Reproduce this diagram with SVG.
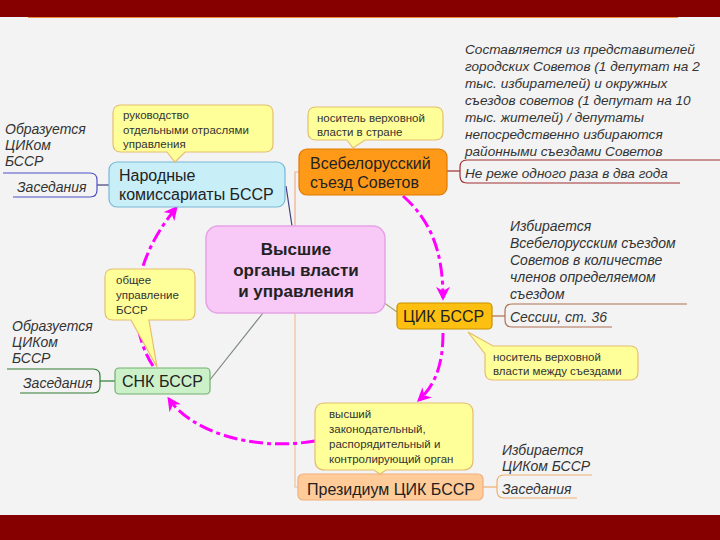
<svg xmlns="http://www.w3.org/2000/svg" width="720" height="540" viewBox="0 0 720 540">
<style>
text{font-family:"Liberation Sans",Arial,sans-serif;fill:#222}
.n{font-size:16px}
.c{font-size:11.5px;fill:#333}
.a{font-size:14px;font-style:italic;fill:#333}
.a2{font-size:13.6px}
.call{fill:#ffff99;stroke:#e6be6e;stroke-width:1.2}
.dash{fill:none;stroke:#ff00ff;stroke-width:3;stroke-dasharray:14 4 4 4;marker-end:url(#ah)}
.ln{fill:none;stroke-width:1.2}
</style>
<defs>
<marker id="ah" viewBox="0 0 10 10" refX="8" refY="5" markerWidth="14" markerHeight="14" markerUnits="userSpaceOnUse" orient="auto">
<path d="M0,0 L10,5 L0,10 L3,5 z" fill="#ff00ff"/>
</marker>
</defs>
<rect x="0" y="0" width="720" height="540" fill="#f3f3f3"/>
<rect x="0" y="0" width="720" height="17" fill="#860000"/>
<line x1="28" y1="17.5" x2="678" y2="17.5" stroke="#e89040" stroke-width="1"/>
<rect x="0" y="515" width="720" height="25" fill="#860000"/>

<g id="connectors">
<path class="ln" d="M286 186 L292 226" stroke="#404080"/>
<path class="ln" d="M295 226 V172 H299" stroke="#f0b090"/>
<path class="ln" d="M295 313 V487 H298" stroke="#f0c0a0" stroke-width="1.5"/>
<path class="ln" d="M383 302 L397 312" stroke="#a8a870"/>
<path class="ln" d="M263 313 L209 381" stroke="#808a80"/>
<path class="ln" d="M97 185 H109" stroke="#404080"/>
<path class="ln" d="M447 171 H460" stroke="#a03030"/>
<path class="ln" d="M492 316 H505" stroke="#b07050"/>
<path class="ln" d="M100 381 H115" stroke="#2e7d32"/>
<path class="ln" d="M483 487 H497" stroke="#f0b070"/>
<path class="dash" d="M403 196 C430 220 443 250 443 298"/>
<path class="dash" d="M443 333 C443 365 435 385 419 400"/>
<path class="dash" d="M315 441 C250 452 190 430 169 399"/>
<path class="dash" d="M153 366 C130 330 125 270 176 208"/>
</g>

<g id="center">
<rect x="206" y="226" width="179" height="87" rx="12" fill="#f8c8f6" stroke="#e6a2e6" stroke-width="1.5"/>
<text x="296" y="255" text-anchor="middle" font-size="17" font-weight="bold">Высшие</text>
<text x="296" y="276" text-anchor="middle" font-size="17" font-weight="bold">органы власти</text>
<text x="296" y="297" text-anchor="middle" font-size="17" font-weight="bold">и управления</text>
</g>

<g id="narkom">
<rect x="109" y="162" width="176" height="45" rx="8" fill="#c8eef8" stroke="#78b8d8" stroke-width="1.2"/>
<text class="n" x="119" y="181">Народные</text>
<text class="n" x="119" y="200">комиссариаты БССР</text>
</g>

<g id="congress">
<rect x="299" y="149" width="148" height="46" rx="8" fill="#ff9a18" stroke="#e07800" stroke-width="1.2"/>
<text class="n" x="310" y="169">Всебелорусский</text>
<text class="n" x="310" y="188">съезд Советов</text>
</g>

<g id="cik">
<rect x="397" y="303" width="95" height="26" rx="4" fill="#fdc010" stroke="#c89000" stroke-width="1.2"/>
<text class="n" x="403" y="322" font-size="17">ЦИК БССР</text>
</g>

<g id="snk">
<rect x="115" y="368" width="95" height="26" rx="4" fill="#ccf0c8" stroke="#70b070" stroke-width="1.2"/>
<text class="n" x="122" y="387" font-size="17">СНК БССР</text>
</g>

<g id="presidium">
<rect x="298" y="474" width="185" height="26" rx="5" fill="#ffcc99" stroke="#f0b080" stroke-width="1.2"/>
<text class="n" x="307" y="495" font-size="17">Президиум ЦИК БССР</text>
</g>

<g id="callout-narkom">
<path class="call" d="M121 105 H265 Q273 105 273 113 V144 Q273 152 265 152 H185 L175 162 L167 152 H121 Q113 152 113 144 V113 Q113 105 121 105 Z"/>
<text class="c" x="123" y="119">руководство</text>
<text class="c" x="123" y="134">отдельными отраслями</text>
<text class="c" x="123" y="148">управления</text>
</g>

<g id="callout-congress">
<path class="call" d="M316 107 H435 Q443 107 443 115 V132 Q443 140 435 140 H365 L353 148 L347 140 H316 Q308 140 308 132 V115 Q308 107 316 107 Z"/>
<text class="c" x="317" y="122">носитель верховной</text>
<text class="c" x="317" y="136">власти в стране</text>
</g>

<g id="callout-snk">
<path class="call" d="M113 269 H187 Q195 269 195 277 V312 Q195 320 187 320 H149 L157 367 L131 320 H113 Q105 320 105 312 V277 Q105 269 113 269 Z"/>
<text class="c" x="116" y="284">общее</text>
<text class="c" x="116" y="299">управление</text>
<text class="c" x="116" y="314">БССР</text>
</g>

<g id="callout-cik">
<path class="call" d="M505 346 H630 Q638 346 638 354 V372 Q638 380 630 380 H493 Q485 380 485 372 V354 L468 332 L493 346 Z"/>
<text class="c" x="493" y="361">носитель верховной</text>
<text class="c" x="493" y="375">власти между съездами</text>
</g>

<g id="callout-presidium">
<path class="call" d="M325 403 H463 Q473 403 473 413 V460 Q473 470 463 470 H386 L380 474 L374 470 H325 Q315 470 315 460 V413 Q315 403 325 403 Z"/>
<text class="c" x="329" y="418">высший</text>
<text class="c" x="329" y="433">законодательный,</text>
<text class="c" x="329" y="448">распорядительный и</text>
<text class="c" x="329" y="463">контролирующий орган</text>
</g>

<g id="notes-narkom">
<path class="ln" d="M3 173 H90 Q97 173 97 180 V190 Q97 197 90 197 H13" stroke="#5050c8"/>
<text class="a" x="5" y="134">Образуется</text>
<text class="a" x="5" y="150">ЦИКом</text>
<text class="a" x="5" y="166">БССР</text>
<text class="a" x="17" y="192">Заседания</text>
</g>

<g id="notes-congress">
<path class="ln" d="M720 160 H467 Q460 160 460 167 V176 Q460 183 467 183 H680" stroke="#a03030"/>
<text class="a a2" x="465" y="54">Составляется из представителей</text>
<text class="a a2" x="465" y="71">городских Советов (1 депутат на 2</text>
<text class="a a2" x="465" y="88">тыс. избирателей) и окружных</text>
<text class="a a2" x="465" y="105">съездов советов (1 депутат на 10</text>
<text class="a a2" x="465" y="122">тыс. жителей) / депутаты</text>
<text class="a a2" x="465" y="139">непосредственно избираются</text>
<text class="a a2" x="465" y="156">районными съездами Советов</text>
<text class="a a2" x="465" y="178">Не реже одного раза в два года</text>
</g>

<g id="notes-cik">
<path class="ln" d="M687 304 H512 Q505 304 505 311 V320 Q505 327 512 327 H612" stroke="#b07050"/>
<text class="a" x="510" y="231">Избирается</text>
<text class="a" x="510" y="248">Всебелорусским съездом</text>
<text class="a" x="510" y="265">Советов в количестве</text>
<text class="a" x="510" y="282">членов определяемом</text>
<text class="a" x="510" y="299">съездом</text>
<text class="a" x="510" y="322">Сессии, ст. 36</text>
</g>

<g id="notes-snk">
<path class="ln" d="M7 369 H93 Q100 369 100 376 V386 Q100 393 93 393 H20" stroke="#2e7d32"/>
<text class="a" x="12" y="331">Образуется</text>
<text class="a" x="12" y="347">ЦИКом</text>
<text class="a" x="12" y="363">БССР</text>
<text class="a" x="23" y="388">Заседания</text>
</g>

<g id="notes-presidium">
<path class="ln" d="M592 475 H504 Q497 475 497 482 V491 Q497 498 504 498 H577" stroke="#f0b070"/>
<text class="a" x="502" y="455">Избирается</text>
<text class="a" x="502" y="471">ЦИКом БССР</text>
<text class="a" x="502" y="494">Заседания</text>
</g>
</svg>
